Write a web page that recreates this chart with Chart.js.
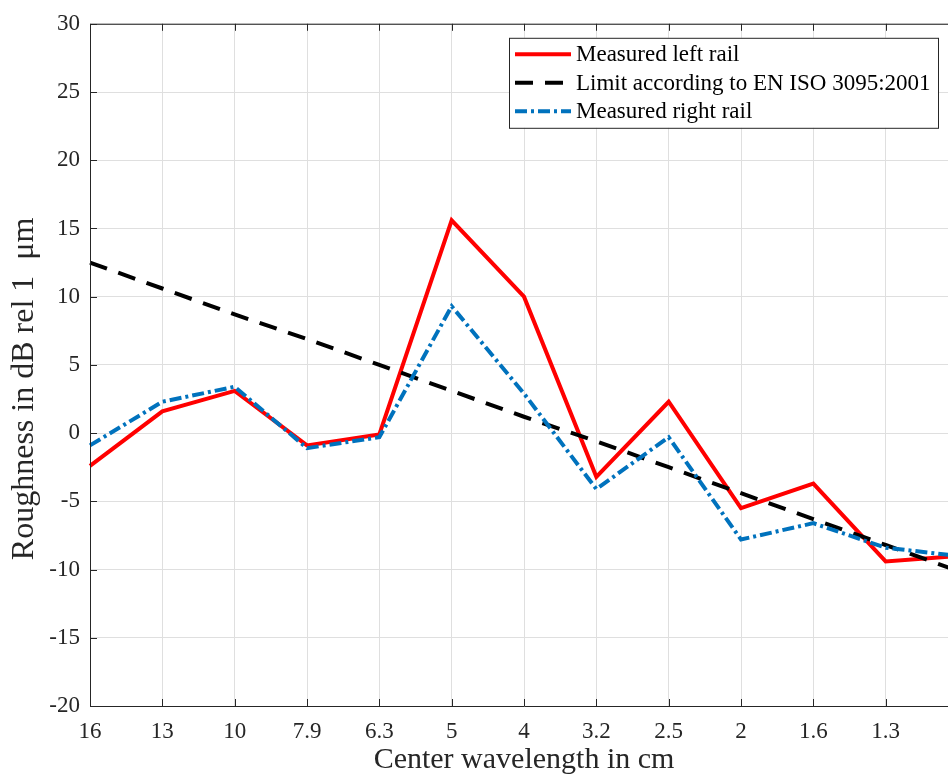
<!DOCTYPE html>
<html>
<head>
<meta charset="utf-8">
<script src="https://cdn.jsdelivr.net/npm/chart.js@4.4.1/dist/chart.umd.min.js"></script>
<style>
html,body{margin:0;padding:0;background:#fff;overflow:hidden;}
#wrap{width:980px;height:780px;}
</style>
</head>
<body>
<div id="wrap"><canvas id="myChart" width="980" height="780"></canvas></div>
<script>
// centre wavelengths (cm), 1/3 octave bands
var wavelengths = ['16','13','10','7.9','6.3','5','4','3.2','2.5','2','1.6','1.3','1'];
var leftRail  = [-2.4, 1.6, 3.1, -0.9, -0.1, 15.6, 10.0, -3.2, 2.3, -5.5, -3.7, -9.4, -9.0];
var limitIso  = [12.5, 10.6, 8.7, 6.9, 5.0, 3.1, 1.2, -0.6, -2.5, -4.4, -6.3, -8.2, -10.1];
var rightRail = [-0.9, 2.3, 3.4, -1.1, -0.3, 9.3, 2.9, -4.1, -0.3, -7.8, -6.6, -8.4, -9.0];
var yTicks = {min: -20, max: 30, step: 5};

var serif = "'Liberation Serif', 'Times New Roman', serif";
var axisColor = '#262626';

// matlab style box with inward ticks
var boxTicks = {
	id: 'boxTicks',
	afterDatasetsDraw: function(chart){
		var ctx = chart.ctx, a = chart.chartArea;
		var xs = chart.scales.x, ys = chart.scales.y;
		var len = 7;
		ctx.save();
		ctx.strokeStyle = axisColor;
		ctx.lineWidth = 1;
		ctx.beginPath();
		ctx.rect(a.left + 0.5, a.top + 0.5, a.right - a.left, a.bottom - a.top);
		for(var i = 0; i < xs.ticks.length; i++){
			var px = Math.round(xs.getPixelForTick(i)) + 0.5;
			ctx.moveTo(px, a.bottom); ctx.lineTo(px, a.bottom - len);
			ctx.moveTo(px, a.top); ctx.lineTo(px, a.top + len);
		}
		for(var j = 0; j < ys.ticks.length; j++){
			var py = Math.round(ys.getPixelForTick(j)) + 0.5;
			ctx.moveTo(a.left, py); ctx.lineTo(a.left + len, py);
			ctx.moveTo(a.right, py); ctx.lineTo(a.right - len, py);
		}
		ctx.stroke();
		ctx.restore();
	}
};

// legend box in the upper right corner
var boxLegend = {
	id: 'boxLegend',
	afterDraw: function(chart){
		var ctx = chart.ctx, a = chart.chartArea;
		var sets = chart.data.datasets;
		var w = 429, h = 90, row = 28.5;
		var x0 = a.right - 20 - w, y0 = a.top + 14;
		ctx.save();
		ctx.fillStyle = '#fff';
		ctx.fillRect(x0, y0, w, h);
		ctx.strokeStyle = axisColor;
		ctx.lineWidth = 1;
		ctx.strokeRect(x0 + 0.5, y0 + 0.5, w, h);
		ctx.font = '23px ' + serif;
		ctx.textBaseline = 'middle';
		for(var i = 0; i < sets.length; i++){
			var yy = y0 + 16.5 + i * row;
			ctx.strokeStyle = sets[i].borderColor;
			ctx.lineWidth = sets[i].borderWidth;
			ctx.setLineDash(sets[i].borderDash || []);
			ctx.beginPath();
			ctx.moveTo(x0 + 6, yy); ctx.lineTo(x0 + 62, yy);
			ctx.stroke();
			ctx.setLineDash([]);
			ctx.fillStyle = '#000';
			ctx.fillText(sets[i].label, x0 + 67, yy + 1);
		}
		ctx.restore();
	}
};

new Chart(document.getElementById("myChart"), {
	type: 'line',
	data: {
		labels: wavelengths,
		datasets: [
			{
				label: "Measured left rail",
				data: leftRail,
				borderColor: "#ff0000",
				borderWidth: 4,
				order: 2
			},
			{
				label: "Limit according to EN ISO 3095:2001",
				data: limitIso,
				borderColor: "#000000",
				borderWidth: 4,
				borderDash: [18, 12],
				order: 1
			},
			{
				label: "Measured right rail",
				data: rightRail,
				borderColor: "#0072bd",
				borderWidth: 4,
				borderDash: [12, 4, 3, 4],
				order: 0
			}
		]
	},
	options: {
		responsive: false,
		animation: false,
		devicePixelRatio: 1,
		layout: { padding: { top: 22, right: 22, bottom: 0, left: 0 } },
		elements: {
			line: { tension: 0, fill: false, borderCapStyle: 'butt' },
			point: { radius: 0, hoverRadius: 0 }
		},
		plugins: {
			legend: { display: false },
			title: { display: false },
			tooltip: { enabled: false }
		},
		scales: {
			x: {
				offset: false,
				grid: { color: '#dfdfdf', lineWidth: 1, drawTicks: false },
				border: { display: false },
				ticks: {
					color: axisColor,
					font: { family: serif, size: 23 },
					padding: 12,
					maxRotation: 0,
					autoSkip: false
				},
				title: {
					display: true,
					text: 'Center wavelength in cm',
					color: axisColor,
					font: { family: serif, size: 30 },
					padding: { top: 0, bottom: 2 }
				},
				afterFit: function(scale){ scale.height = 74; }
			},
			y: {
				min: yTicks.min,
				max: yTicks.max,
				grid: { color: '#dfdfdf', lineWidth: 1, drawTicks: false },
				border: { display: false },
				ticks: {
					stepSize: yTicks.step,
					color: axisColor,
					font: { family: serif, size: 23 },
					padding: 10
				},
				title: {
					display: true,
					text: 'Roughness in dB rel 1  \u03bcm      ',
					color: axisColor,
					font: { family: serif, size: 32 },
					padding: { top: 5, bottom: 0 }
				},
				afterFit: function(scale){ scale.width = 90; }
			}
		}
	},
	plugins: [boxTicks, boxLegend]
});
</script>
</body>
</html>
